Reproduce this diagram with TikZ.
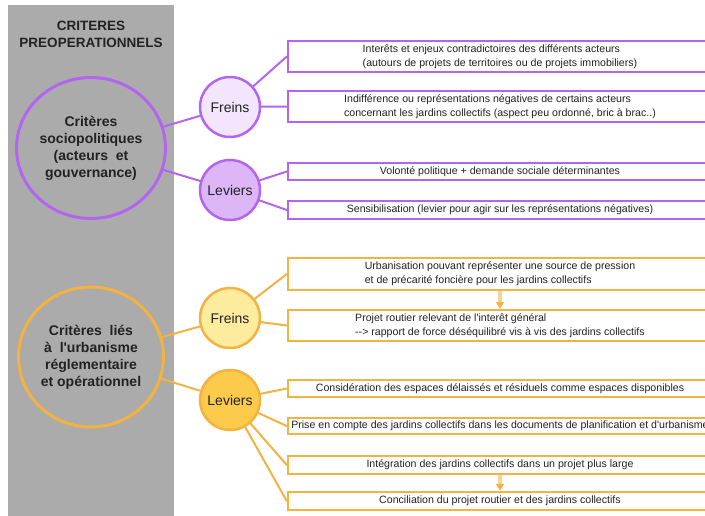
\documentclass[tikz,border=0pt]{standalone}
\usepackage{fontspec}
\setmainfont{Liberation Sans}
\usetikzlibrary{arrows.meta,shapes.geometric}
\definecolor{LilacLine}{HTML}{B266F0}
\definecolor{LilacPale}{HTML}{F3E5FC}
\definecolor{LilacMid}{HTML}{DCB6F7}
\definecolor{AmberLine}{HTML}{F4B241}
\definecolor{AmberPale}{HTML}{FDEB9E}
\definecolor{AmberMid}{HTML}{FDCB4B}
\definecolor{AmberArrow}{HTML}{F9D49A}
\definecolor{PanelGrey}{HTML}{ABABAB}
\definecolor{InkGrey}{HTML}{222222}
\tikzset{>={Triangle[length=2.4mm,width=2.8mm]}}
\tikzset{
  BigCrit/.style={
    ellipse, draw=#1, line width=3pt, inner sep=0pt,
    text=InkGrey, align=center,
    font=\fontsize{14}{17}\selectfont\bfseries
  },
  SmallCrit/.style 2 args={
    circle, draw=#1, fill=#2, line width=2.5pt,
    minimum size=60pt, inner sep=0pt,
    text=InkGrey, font=\fontsize{14}{17}\selectfont
  },
  CritBox/.style={
    draw=#1, fill=white, line width=2.5pt,
    minimum width=424pt, inner sep=0pt,
    text=InkGrey, align=left,
    font=\fontsize{10.6}{14}\selectfont
  },
  Link/.style={draw=#1, line width=2pt}
}
\begin{document}
\begin{tikzpicture}[x=1pt,y=-1pt,line cap=round]
    \clip (0,0) rectangle (705,515);
    \path[use as bounding box] (0,0) rectangle (705,515);
    \def\BoxX{500}

    % left panel
    \fill[PanelGrey] (8,5) rectangle (174,520);
    \node[text=InkGrey, align=center, font=\fontsize{13.5}{17}\selectfont\bfseries] (title) at (91,34) {CRITERES\\PREOPERATIONNELS};

    % sociopolitical criteria
    \node[BigCrit=LilacLine, minimum width=149pt, minimum height=141pt] (socio) at (91,148) {Critères\\sociopolitiques\\(acteurs\ \ et\\gouvernance)};
    \node[SmallCrit={LilacLine}{LilacPale}] (sfreins) at (230,107) {Freins};
    \node[SmallCrit={LilacLine}{LilacMid}] (sleviers) at (230,190) {Leviers};

    \node[CritBox=LilacLine, minimum height=31pt] (sf1) at (\BoxX,56.5) {Interêts et enjeux contradictoires des différents acteurs\\(autours de projets de territoires ou de projets immobiliers)};
    \node[CritBox=LilacLine, minimum height=31pt] (sf2) at (\BoxX,106.5) {Indifférence ou représentations négatives de certains acteurs\\concernant les jardins collectifs (aspect peu ordonné, bric à brac..)};
    \node[CritBox=LilacLine, minimum height=17pt] (sl1) at (\BoxX,171.5) {Volonté politique + demande sociale déterminantes};
    \node[CritBox=LilacLine, minimum height=18pt] (sl2) at (\BoxX,210) {Sensibilisation (levier pour agir sur les représentations négatives)};

    \draw[Link=LilacLine] (socio) -- (sfreins);
    \draw[Link=LilacLine] (socio) -- (sleviers);
    \draw[Link=LilacLine] (sfreins) -- (sf1.west);
    \draw[Link=LilacLine] (sfreins) -- (sf2.west);
    \draw[Link=LilacLine] (sleviers) -- (sl1.west);
    \draw[Link=LilacLine] (sleviers) -- (sl2.west);

    % urbanism criteria
    \node[BigCrit=AmberLine, minimum width=145pt, minimum height=140pt] (urba) at (91,357) {Critères\ \ liés\\à\ \ l\textquotesingle urbanisme\\réglementaire\\et opérationnel};
    \node[SmallCrit={AmberLine}{AmberPale}] (ufreins) at (230,318) {Freins};
    \node[SmallCrit={AmberLine}{AmberMid}] (uleviers) at (230,400) {Leviers};

    \node[CritBox=AmberLine, minimum height=32pt] (uf1) at (\BoxX,274) {Urbanisation pouvant représenter une source de pression\\et de précarité foncière pour les jardins collectifs};
    \node[CritBox=AmberLine, minimum height=31pt] (uf2) at (\BoxX,325.5) {Projet routier relevant de l\textquotesingle interêt général\\-{}-> rapport de force déséquilibré vis à vis des jardins collectifs};
    \node[CritBox=AmberLine, minimum height=17pt] (ul1) at (\BoxX,388.5) {Considération des espaces délaissés et résiduels comme espaces disponibles};
    \node[CritBox=AmberLine, minimum height=16pt] (ul2) at (\BoxX,426) {Prise en compte des jardins collectifs dans les documents de planification et d\textquotesingle urbanisme};
    \node[CritBox=AmberLine, minimum height=18pt] (ul3) at (\BoxX,465) {Intégration des jardins collectifs dans un projet plus large};
    \node[CritBox=AmberLine, minimum height=18pt] (ul4) at (\BoxX,501) {Conciliation du projet routier et des jardins collectifs};

    \draw[Link=AmberLine] (urba) -- (ufreins);
    \draw[Link=AmberLine] (urba) -- (uleviers);
    \draw[Link=AmberLine] (ufreins) -- (uf1.west);
    \draw[Link=AmberLine] (ufreins) -- (uf2.west);
    \foreach \b in {ul1,ul2,ul3,ul4}
        \draw[Link=AmberLine] (uleviers) -- (\b.west);

    \draw[AmberArrow, line width=3.5pt, line cap=butt, -{>[color=AmberLine]}] (uf1.south) -- (uf2.north);
    \draw[AmberArrow, line width=3.5pt, line cap=butt, -{>[color=AmberLine]}] (ul3.south) -- (ul4.north);
\end{tikzpicture}
\end{document}
